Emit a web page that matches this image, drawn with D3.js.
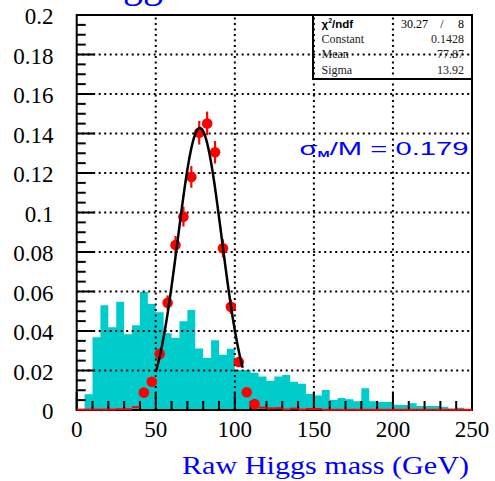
<!DOCTYPE html>
<html><head><meta charset="utf-8">
<script src="https://cdn.jsdelivr.net/npm/d3@7"></script>
<style>html,body{margin:0;padding:0;background:#fff;overflow:hidden}</style>
</head><body>
<svg id="c" width="495" height="481" xmlns="http://www.w3.org/2000/svg"></svg>
<script>
// ---- data ----
const binStarts = [0,5,10,15,20,25,30,35,40,45,50,55,60,65,70,75,80,85,90,95,
  100,105,110,115,120,125,130,135,140,145,150,155,160,165,170,175,180,185,190,195,
  200,205,210,215,220,225,230,235,240,245];
const binWidth = 5;
const bkgValues = [0,0.008,0.0368,0.053,0.0419,0.0548,0.0383,0.0429,0.0597,0.0537,
  0.0495,0.0388,0.0366,0.045,0.0506,0.0312,0.0263,0.0353,0.028,0.031,
  0.0203,0.0203,0.0189,0.0169,0.0148,0.0169,0.0177,0.0143,0.0133,0.0081,
  0.0074,0.0101,0.0051,0.0061,0.0054,0.0044,0.011,0.0044,0.0041,0.0041,
  0.0027,0.0025,0.0034,0.002,0.002,0.002,0.0017,0.0008,0.0012,0.0005];
const dataValues = [0.0002,0.0002,0.0002,0.0002,0.0002,0.0004,0.0004,0.0014,0.0088,0.0143,
  0.0284,0.0543,0.0835,0.0979,0.118,0.1404,0.1451,0.1305,0.0819,0.0523,
  0.0243,0.009,0.003,0.0012,0.0008,0.0009,0.0002,0.0007,0.0002,0.0005,
  0.0005,0.0001,0.0001,0.0001,0.0001,0.0001,0.0001,0.0001,0.0001,0.0001,
  0.0001,0.0001,0.0001,0.0001,0.0001,0.0001,0.0001,0.0001,0.0001,0.0001];
const dataErrors = [0,0,0,0,0,0,0,0.0004,0.0015,0.002,
  0.0027,0.0037,0.0046,0.005,0.0055,0.006,0.006,0.0057,0.0046,0.0037,
  0.0025,0.0015,0.0009,0,0,0,0,0,0,0,
  0,0,0,0,0,0,0,0,0,0,
  0,0,0,0,0,0,0,0,0,0];
const fitConstant = 0.1428, fitMean = 77.87, fitSigma = 13.92;
const fitRange = [50, 105];
const xTickValues = [0,50,100,150,200,250];
const xTickLabels = ["0","50","100","150","200","250"];
const yTickValues = [0,0.02,0.04,0.06,0.08,0.1,0.12,0.14,0.16,0.18,0.2];
const yTickLabels = ["0","0.02","0.04","0.06","0.08","0.1","0.12","0.14","0.16","0.18","0.2"];
const statsNames = ["Constant","Mean","Sigma"];
const statsValues = ["0.1428","77.87","13.92"];
const chi2Value = "30.27", ndfValue = "8";

// ---- drawing ----
const svg = d3.select("#c");
const x = d3.scaleLinear().domain([0,250]).range([76.7,472]);
const y = d3.scaleLinear().domain([0,0.2]).range([410,15]);
const serif = "'Liberation Serif','Times New Roman',serif";
const sans = "'Liberation Sans',Arial,sans-serif";

// stats box (under the grid, as in the reference)
const bx0 = 313, bx1 = 472, by0 = 15, by1 = 79;
svg.append("rect").attr("x",bx0).attr("y",by0).attr("width",bx1-bx0).attr("height",by1-by0)
  .attr("fill","#fff").attr("stroke","#000").attr("stroke-width",2);
const chi = svg.append("text").attr("x",321.5).attr("y",27.5)
  .attr("font-family",sans).attr("font-weight","bold").attr("font-size",11.5).attr("fill","#000");
chi.append("tspan").text("χ");
chi.append("tspan").attr("font-size",7).attr("dy",-4.5).text("2");
chi.append("tspan").attr("dy",4.5).text("/ndf");
svg.append("text").attr("x",428).attr("y",27.5).attr("text-anchor","end")
  .attr("font-family",serif).attr("font-size",12).text(chi2Value);
svg.append("text").attr("x",442).attr("y",27.5).attr("text-anchor","middle")
  .attr("font-family",serif).attr("font-size",12).text("/");
svg.append("text").attr("x",464).attr("y",27.5).attr("text-anchor","end")
  .attr("font-family",serif).attr("font-size",12).text(ndfValue);
const rowY = [43.3, 58.3, 73.5];
statsNames.forEach((n,i)=>{
  svg.append("text").attr("x",321.5).attr("y",rowY[i]).attr("font-family",serif)
    .attr("font-size",12).attr("fill","#222").text(n);
  svg.append("text").attr("x",464).attr("y",rowY[i]).attr("text-anchor","end")
    .attr("font-family",serif).attr("font-size",12).attr("fill","#222").text(statsValues[i]);
});

// background histogram (filled step)
let hp = d3.path();
hp.moveTo(x(binStarts[0]), y(0));
binStarts.forEach((s,i)=>{
  hp.lineTo(x(s), y(bkgValues[i]));
  hp.lineTo(x(s+binWidth), y(bkgValues[i]));
});
hp.lineTo(x(250), y(0));
hp.closePath();
svg.append("path").attr("d",hp.toString()).attr("fill","#00cccc").attr("stroke","none");

// grid
const gridG = svg.append("g").attr("stroke","#000").attr("stroke-width",2).attr("stroke-dasharray","2,3.5");
[50,100,150,200].forEach(v=>{
  gridG.append("line").attr("x1",x(v)).attr("x2",x(v)).attr("y1",y(0)).attr("y2",y(0.2));
});
yTickValues.filter(v=>v>0 && v<0.2).forEach(v=>{
  gridG.append("line").attr("x1",x(0)).attr("x2",x(250)).attr("y1",y(v)).attr("y2",y(v));
});

// frame
svg.append("rect").attr("x",x(0)).attr("y",y(0.2)).attr("width",x(250)-x(0)).attr("height",y(0)-y(0.2))
  .attr("fill","none").attr("stroke","#000").attr("stroke-width",2);

// ticks
const tickG = svg.append("g").attr("stroke","#000").attr("stroke-width",2);
for (let v=0; v<=250.001; v+=10) {
  const major = Math.abs(v%50) < 1e-6;
  tickG.append("line").attr("x1",x(v)).attr("x2",x(v)).attr("y1",y(0)).attr("y2",y(0)-(major?18:9));
}
for (let k=0; k<=40; k++) {
  const v = k*0.005;
  const major = k%4===0;
  tickG.append("line").attr("x1",x(0)).attr("x2",x(0)+(major?18:9)).attr("y1",y(v)).attr("y2",y(v));
}

// tick labels
xTickValues.forEach((v,i)=>{
  svg.append("text").attr("x",x(v)).attr("y",437).attr("text-anchor","middle")
    .attr("font-family",serif).attr("font-size",23).attr("fill","#000").text(xTickLabels[i]);
});
yTickValues.forEach((v,i)=>{
  svg.append("text").attr("x",53.5).attr("y",y(v)+9).attr("text-anchor","end")
    .attr("font-family",serif).attr("font-size",23).attr("fill","#000").text(yTickLabels[i]);
});

// data points (red)
const red = "#ff0000";
const dg = svg.append("g");
binStarts.forEach((s,i)=>{
  const v = dataValues[i], e = dataErrors[i];
  dg.append("line").attr("x1",x(s)).attr("x2",x(s+binWidth)).attr("y1",y(v)).attr("y2",y(v))
    .attr("stroke",red).attr("stroke-width",2);
  if (e>0) dg.append("line").attr("x1",x(s+binWidth/2)).attr("x2",x(s+binWidth/2))
    .attr("y1",y(v-e)).attr("y2",y(v+e)).attr("stroke",red).attr("stroke-width",2.2);
  if (v>=0.002) dg.append("circle").attr("cx",x(s+binWidth/2)).attr("cy",y(v)).attr("r",5.3).attr("fill",red);
});

// fit curve
const fitX = d3.range(fitRange[0], fitRange[1]+0.001, 0.5);
const gauss = t => fitConstant*Math.exp(-0.5*Math.pow((t-fitMean)/fitSigma,2));
svg.append("path").attr("d", d3.line().x(t=>x(t)).y(t=>y(gauss(t)))(fitX))
  .attr("fill","none").attr("stroke","#000").attr("stroke-width",2.5);

// sigma/M annotation
const sm = svg.append("text").attr("x",299.5).attr("y",155.3).attr("font-family",sans)
  .attr("font-size",19).attr("fill","#0000ff")
  .attr("textLength",169).attr("lengthAdjust","spacingAndGlyphs");
sm.append("tspan").text("σ");
sm.append("tspan").attr("font-size",9.5).attr("font-weight","bold").attr("dy",1.5).text("M");
sm.append("tspan").attr("dy",-1.5).text("/M = 0.179");

// axis title
svg.append("text").attr("x",469).attr("y",474).attr("text-anchor","end")
  .attr("font-family",serif).attr("font-size",26).attr("fill","#0000ff")
  .attr("textLength",287).attr("lengthAdjust","spacingAndGlyphs").text("Raw Higgs mass (GeV)");

// top title (mostly outside the picture)
svg.append("text").attr("x",83).attr("y",-3).attr("font-family",serif)
  .attr("font-size",40).attr("fill","#0000ff").text("Higgs");
</script>
</body></html>
